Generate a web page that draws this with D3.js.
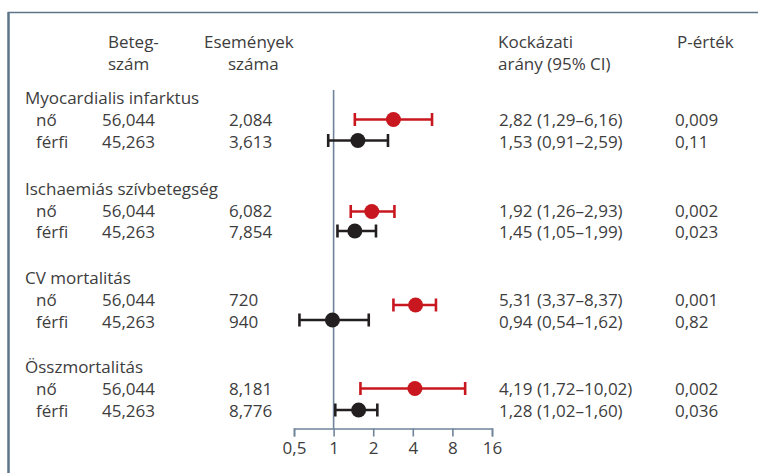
<!DOCTYPE html>
<html><head><meta charset="utf-8">
<script src="https://cdn.jsdelivr.net/npm/d3@7"></script>
<style>
html,body{margin:0;padding:0;background:#fff;}
svg text{font-family:"Open Sans",sans-serif;fill:#3d3d3d;}
</style></head>
<body><svg id="c" width="758" height="473"></svg>
<script>
const groups = ["Myocardialis infarktus","Ischaemiás szívbetegség","CV mortalitás","Összmortalitás"];
const sexes = ["nő","férfi"];
const patients = ["56,044","45,263"];
const events = [["2,084","3,613"],["6,082","7,854"],["720","940"],["8,181","8,776"]];
const hrText = [["2,82 (1,29–6,16)","1,53 (0,91–2,59)"],["1,92 (1,26–2,93)","1,45 (1,05–1,99)"],["5,31 (3,37–8,37)","0,94 (0,54–1,62)"],["4,19 (1,72–10,02)","1,28 (1,02–1,60)"]];
const pText = [["0,009","0,11"],["0,002","0,023"],["0,001","0,82"],["0,002","0,036"]];
// plotted positions
const hr = [[2.85,1.53],[1.95,1.45],[4.2,0.98],[4.15,1.55]];
const lo = [[1.45,0.91],[1.35,1.07],[2.85,0.55],[1.6,1.03]];
const hi = [[5.6,2.59],[2.9,2.1],[6.0,1.85],[10.0,2.15]];
const ticks = [0.5,1,2,4,8,16];
const tickLabels = ["0,5","1","2","4","8","16"];
const headers = [["Beteg-","szám"],["Események","száma"],["Kockázati","arány (95% CI)"],["P-érték",""]];

const svg = d3.select("#c");
const frame = "#5d7589";
svg.append("line").attr("x1",8.5).attr("x2",8.5).attr("y1",12).attr("y2",473).attr("stroke",frame).attr("stroke-width",2.5);
svg.append("line").attr("x1",8).attr("x2",758).attr("y1",12.5).attr("y2",12.5).attr("stroke",frame).attr("stroke-width",1.5);

const x = d3.scaleLog().base(2).domain([0.5,16]).range([294,492]);
const FS = 17;
const txt = (xx,yy,s,anchor)=>svg.append("text").attr("x",xx).attr("y",yy).attr("font-size",FS).attr("text-anchor",anchor||"start").text(s);

const hx = [108,204,498,677];
headers.forEach((h,i)=>{ txt(hx[i],48,h[0]); if(h[1]) txt(i===1?228:hx[i],70,h[1]); });

const g0 = [98,188.5,278,367];
const colX = {sex:36, pat:102, ev:229, hr:499, p:675};
groups.forEach((g,i)=>{
  const y0 = g0[i];
  txt(25,y0+6,g);
  sexes.forEach((s,j)=>{
    const yy = y0+22+j*21.5;
    txt(colX.sex,yy+6,s);
    txt(colX.pat,yy+6,patients[j]);
    txt(colX.ev,yy+6,events[i][j]);
    txt(colX.hr,yy+6,hrText[i][j]);
    txt(colX.p,yy+6,pText[i][j]);
  });
});

// reference line
const axisY = 428.5;
svg.append("line").attr("x1",x(1)).attr("x2",x(1)).attr("y1",90).attr("y2",axisY).attr("stroke","#6f849a").attr("stroke-width",1.6);

// axis
const ax = svg.append("g").attr("transform",`translate(0,${axisY})`)
  .call(d3.axisBottom(x).tickValues(ticks).tickFormat((d,i)=>tickLabels[i]).tickSizeOuter(0).tickSize(8).tickPadding(5));
ax.select(".domain").attr("stroke","#6f849a").attr("stroke-width",1.6);
ax.selectAll(".tick line").attr("stroke","#6f849a").attr("stroke-width",1.6);
ax.selectAll(".tick text").attr("font-size",FS).attr("font-family","Open Sans, sans-serif").attr("fill","#3d3d3d");

const colors = ["#c8171e","#231f20"];
const dotY = [[119.5,140.5],[211.5,231],[305,320],[388.5,410]];
groups.forEach((g,i)=>{
  sexes.forEach((s,j)=>{
    const yy = dotY[i][j], c = colors[j];
    const gg = svg.append("g").attr("stroke",c).attr("stroke-width",2.6);
    gg.append("line").attr("x1",x(lo[i][j])).attr("x2",x(hi[i][j])).attr("y1",yy).attr("y2",yy);
    gg.append("line").attr("x1",x(lo[i][j])).attr("x2",x(lo[i][j])).attr("y1",yy-6.5).attr("y2",yy+6.5);
    gg.append("line").attr("x1",x(hi[i][j])).attr("x2",x(hi[i][j])).attr("y1",yy-6.5).attr("y2",yy+6.5);
    svg.append("circle").attr("cx",x(hr[i][j])).attr("cy",yy).attr("r",7.5).attr("fill",c);
  });
});
</script></body></html>
